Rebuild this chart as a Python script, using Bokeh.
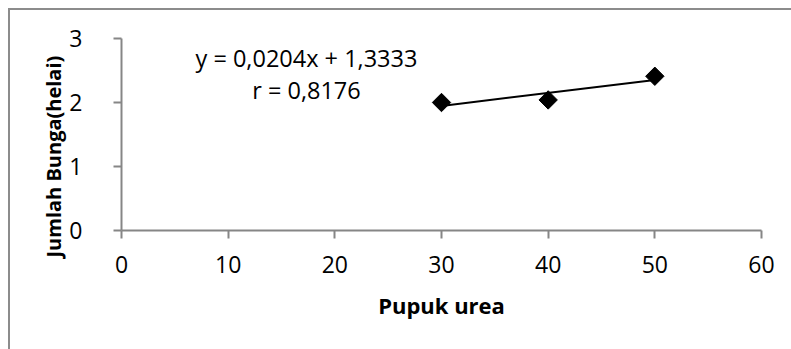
from bokeh.plotting import figure
from bokeh.models import Range1d, FixedTicker, ColumnDataSource, Label, Title
from bokeh.embed import file_html
from bokeh.resources import INLINE

# data
pupuk_urea = [30, 40, 50]
jumlah_bunga = [2.0, 2.04, 2.41]
slope = 0.0204
intercept = 1.3333
r_value = 0.8176
x_ticks = [0, 10, 20, 30, 40, 50, 60]
y_ticks = [0, 1, 2, 3]
eq_text = "y = 0,0204x + 1,3333"
r_text = "r = 0,8176"

FONT = "Open Sans"
AX = "#868686"

p = figure(width=781, height=339, output_backend="svg", toolbar_location=None,
           x_range=Range1d(0, 60), y_range=Range1d(0, 3),
           frame_width=640, frame_height=192,
           min_border_left=111, min_border_right=30, min_border_top=28, min_border_bottom=119)
p.styles = {"margin-left": "8px", "margin-top": "8px",
            "border-top": "2px solid #8c8c8c", "border-left": "2px solid #8c8c8c"}
p.outline_line_color = None
p.grid.visible = False
p.background_fill_color = "white"
p.border_fill_color = "white"

for ax, ticks in ((p.xaxis, x_ticks), (p.yaxis, y_ticks)):
    ax.ticker = FixedTicker(ticks=ticks)
    ax.axis_line_color = AX
    ax.axis_line_width = 2
    ax.major_tick_line_color = AX
    ax.major_tick_line_width = 2
    ax.major_tick_out = 8
    ax.major_tick_in = 0
    ax.minor_tick_line_color = None
    ax.major_label_text_font = FONT
    ax.major_label_text_font_size = "23px"
    ax.major_label_text_color = "black"

p.xaxis.major_label_standoff = 17
p.yaxis.major_label_standoff = 31
p.yaxis.axis_label_standoff = 0

p.xaxis.axis_label = "Pupuk urea"
p.xaxis.axis_label_text_font = FONT
p.xaxis.axis_label_text_font_style = "bold"
p.xaxis.axis_label_text_font_size = "22px"
p.xaxis.axis_label_text_color = "black"
p.xaxis.axis_label_standoff = 14

ytitle = Title(text="Jumlah Bunga(helai)", align="left", offset=-27, standoff=0,
               text_font=FONT, text_font_style="bold", text_font_size="20px",
               text_color="black")
p.add_layout(ytitle, "left")

# trend line
xl = [pupuk_urea[0], pupuk_urea[-1]]
yl = [slope * v + intercept for v in xl]
p.line(xl, yl, line_color="black", line_width=2)

src = ColumnDataSource(dict(x=pupuk_urea, y=jumlah_bunga))
p.scatter("x", "y", source=src, marker="square", angle=0.785398, size=13,
          fill_color="black", line_color="black")

p.add_layout(Label(x=17.34, y=2.70, text=eq_text, text_align="center", text_baseline="middle",
                   text_font=FONT, text_font_size="23.5px", text_color="black"))
p.add_layout(Label(x=17.34, y=2.19, text=r_text, text_align="center", text_baseline="middle",
                   text_font=FONT, text_font_size="23.5px", text_color="black"))

open("out.html", "w").write(file_html(p, INLINE))
